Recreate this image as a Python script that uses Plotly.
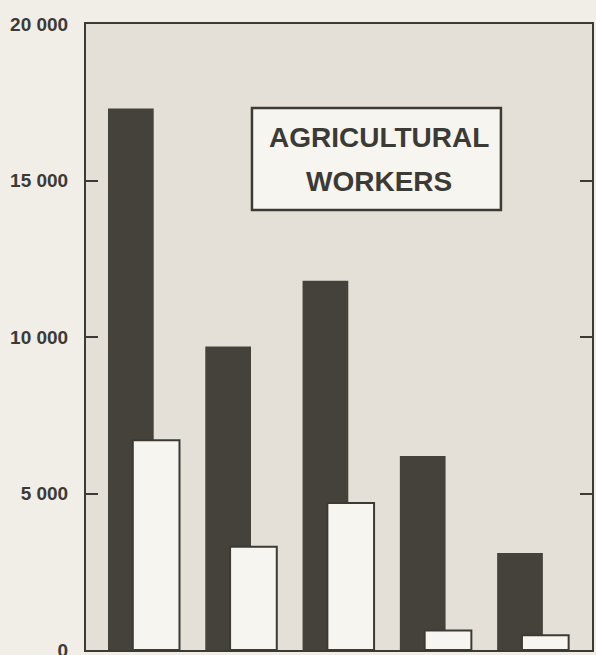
import plotly.graph_objects as go

# ---- data ----
groups = ["Group 1", "Group 2", "Group 3", "Group 4", "Group 5"]
dark_values = [17300, 9700, 11800, 6200, 3100]
light_values = [6700, 3300, 4700, 620, 470]
tick_values = [0, 5000, 10000, 15000, 20000]
tick_labels = ["0", "5 000", "10 000", "15 000", "20 000"]
box_title = ["AGRICULTURAL", "WORKERS"]

INK = "#3c3a35"
DARK = "#45423c"
LIGHT = "#f7f5f0"
PLOT_BG = "#e4e0d7"
PAPER_BG = "#f1eee8"

fig = go.Figure()
fig.add_trace(go.Bar(
    x=groups, y=dark_values, name="dark",
    marker=dict(color=DARK, line=dict(width=0)),
    offset=-0.365, width=0.47,
))
fig.add_trace(go.Bar(
    x=groups, y=light_values, name="light",
    marker=dict(color=LIGHT, line=dict(width=2, color=INK)),
    offset=-0.11, width=0.48,
))

# title box
fig.add_shape(type="rect", xref="x domain", yref="y domain",
              x0=0.328, x1=0.82, y0=0.703, y1=0.866,
              fillcolor=LIGHT, line=dict(color=INK, width=2.5), layer="above")
for txt, yy in zip(box_title, [0.819, 0.748]):
    fig.add_annotation(text=txt, xref="x domain", yref="y domain",
                       x=0.579, y=yy, xanchor="center", yanchor="middle",
                       showarrow=False,
                       font=dict(family="Liberation Sans, Arial", size=28,
                                 color=INK, weight="bold"))

fig.update_layout(
    width=596, height=655,
    margin=dict(l=86, r=4, t=24, b=5),
    barmode="overlay",
    showlegend=False,
    paper_bgcolor=PAPER_BG,
    plot_bgcolor=PLOT_BG,
    font=dict(family="Liberation Sans, Arial", color=INK),
)
fig.update_xaxes(
    type="category", range=[-0.591, 4.61], automargin=False,
    showticklabels=False, ticks="", showgrid=False, zeroline=False,
    showline=True, linecolor=INK, linewidth=2, mirror=True,
)
fig.update_yaxes(
    range=[0, 20000], tickvals=tick_values, ticktext=tick_labels,
    automargin=False,
    ticks="inside", ticklen=12, tickwidth=2, tickcolor=INK,
    showgrid=False, zeroline=False,
    showline=True, linecolor=INK, linewidth=2, mirror="ticks",
    tickfont=dict(size=19, color=INK, weight="bold"),
    ticklabelstandoff=12, ticklabeloverflow="allow",
)

fig.write_html("out.html", config={"displayModeBar": False},
               post_script="document.body.style.margin='0';document.body.style.background='" + PAPER_BG + "';")
